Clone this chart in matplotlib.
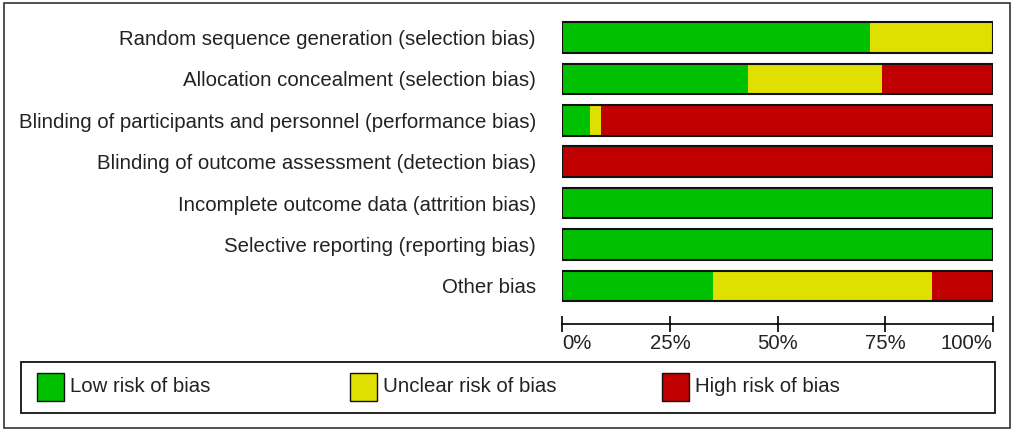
import matplotlib
matplotlib.use("Agg")
import matplotlib.pyplot as plt
from matplotlib.patches import Rectangle

categories = [
    "Random sequence generation (selection bias)",
    "Allocation concealment (selection bias)",
    "Blinding of participants and personnel (performance bias)",
    "Blinding of outcome assessment (detection bias)",
    "Incomplete outcome data (attrition bias)",
    "Selective reporting (reporting bias)",
    "Other bias",
]
low = [71.6, 43.1, 6.4, 0.0, 100.0, 100.0, 34.9]
unclear = [28.4, 31.2, 2.7, 0.0, 0.0, 0.0, 51.1]
high = [0.0, 25.7, 90.9, 100.0, 0.0, 0.0, 14.0]
tick_values = [0, 25, 50, 75, 100]
tick_labels = ["0%", "25%", "50%", "75%", "100%"]
legend_labels = ["Low risk of bias", "Unclear risk of bias", "High risk of bias"]
colors = ["#00C000", "#E0E000", "#C00000"]

plt.rcParams['font.family'] = ['Liberation Sans', 'DejaVu Sans']
FS = 14.7
W, H = 1014, 433
fig = plt.figure(figsize=(W / 100, H / 100), dpi=100)

def fx(px):
    return px / W

def fy(py):
    return 1 - py / H

# outer frame
fig.add_artist(Rectangle((fx(4), fy(428)), fx(1006), 425 / H, transform=fig.transFigure,
                         fill=False, edgecolor="#333333", lw=1.2))

x0, x1 = 562.3, 992.7
top, bottom = 16.8, 324
ax = fig.add_axes([fx(x0), fy(bottom), fx(x1 - x0), (bottom - top) / H])
n = len(categories)
ys = list(range(n))
lefts = [0.0] * n
for vals, c in zip([low, unclear, high], colors):
    ax.barh(ys, vals, left=lefts, height=0.74, color=c, edgecolor="none")
    lefts = [l + v for l, v in zip(lefts, vals)]
# black outline per row
ax.barh(ys, [100] * n, height=0.74, color="none", edgecolor="#111111", lw=1.5)
ax.set_xlim(0, 100)
ax.set_ylim(n - 0.08, -0.5)
ax.set_yticks(ys)
ax.set_yticklabels(categories, fontsize=FS, color="#222222")
ax.tick_params(axis="y", length=0, pad=19)
ax.set_xticks(tick_values)
ax.set_xticklabels(tick_labels, fontsize=FS, color="#222222")
ax.tick_params(axis="x", direction="inout", length=12, width=1.2, pad=1)
xt = ax.get_xticklabels()
xt[0].set_ha("left")
xt[-1].set_ha("right")
for s in ["top", "right", "left"]:
    ax.spines[s].set_visible(False)
ax.spines["bottom"].set_linewidth(1.2)
ax.patch.set_visible(False)

# legend box
fig.add_artist(Rectangle((fx(21), fy(413)), fx(974), 51 / H, transform=fig.transFigure,
                         fill=False, edgecolor="#111111", lw=1.3))
patch_x = [37, 350, 662]
for px, lab, c in zip(patch_x, legend_labels, colors):
    fig.add_artist(Rectangle((fx(px), fy(400.5)), fx(27), 27.5 / H, transform=fig.transFigure,
                             facecolor=c, edgecolor="#111111", lw=1.0))
    fig.text(fx(px + 33), fy(387), lab, fontsize=FS, color="#222222", va="center", ha="left")

fig.savefig("out.png", dpi=100)
